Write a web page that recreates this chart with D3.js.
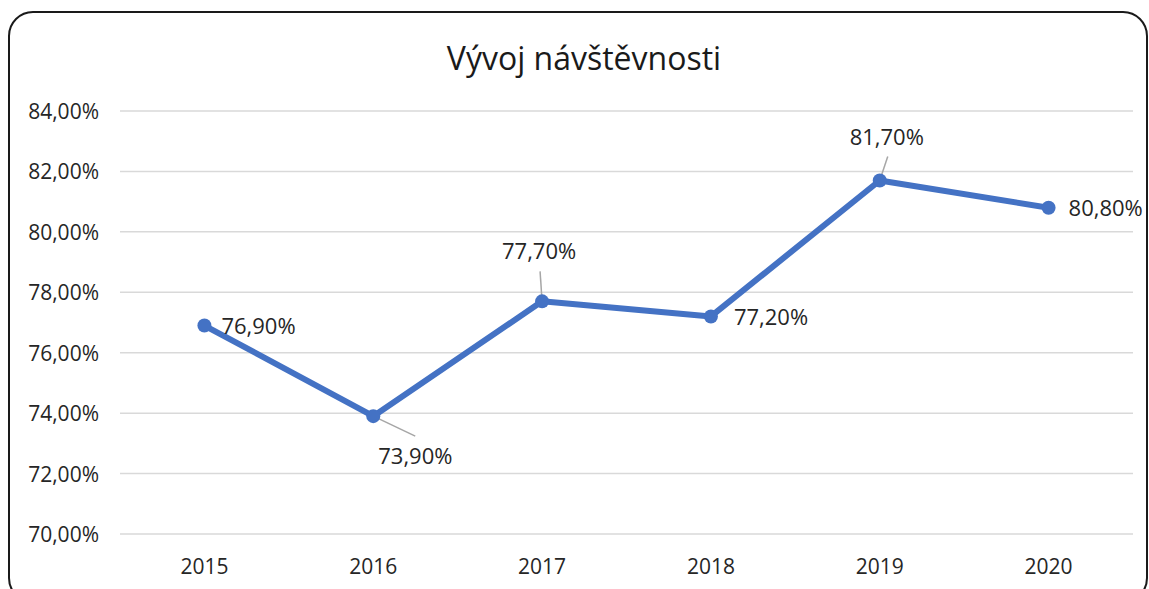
<!DOCTYPE html>
<html>
<head>
<meta charset="utf-8">
<script src="https://cdn.jsdelivr.net/npm/d3@7"></script>
<style>
  body { margin: 0; background: #fff; }
  text { font-family: "Open Sans", "Noto Sans", sans-serif; fill: #262626; }
</style>
</head>
<body>
<svg id="chart"></svg>
<script>
const years = ["2015", "2016", "2017", "2018", "2019", "2020"];
const visits = [76.9, 73.9, 77.7, 77.2, 81.7, 80.8];
const yTicks = [70, 72, 74, 76, 78, 80, 82, 84];
// label placement per point: dx, dy of text, and optional leader end
const labelPos = [
  { dx: 17, dy: 8, anchor: "start" },
  { dx: 5, dy: 48, anchor: "start", leader: [42, 20] },
  { dx: -3, dy: -42, anchor: "middle", leader: [-2, -30] },
  { dx: 23, dy: 9, anchor: "start" },
  { dx: 7, dy: -35, anchor: "middle", leader: [8, -24] },
  { dx: 20, dy: 8, anchor: "start" }
];

const w = 1149;
const h = 589;
const fmt = (v) => v.toFixed(2).replace(".", ",") + "%";

const svg = d3.select("#chart").attr("width", w).attr("height", h);

svg.append("rect")
  .attr("x", 9).attr("y", 12)
  .attr("width", 1138).attr("height", 590)
  .attr("rx", 24)
  .attr("fill", "#fff")
  .attr("stroke", "#1a1a1a")
  .attr("stroke-width", 2);

svg.append("text")
  .attr("x", 584).attr("y", 70)
  .attr("text-anchor", "middle")
  .attr("font-size", "32px")
  .style("fill", "#1a1a1a")
  .text("Vývoj návštěvnosti");

const x = d3.scaleBand().domain(years).range([120, 1133]);
const y = d3.scaleLinear().domain([70, 84]).range([534, 111]);

svg.append("g")
  .selectAll("line")
  .data(yTicks)
  .enter()
  .append("line")
  .attr("x1", 120).attr("x2", 1133)
  .attr("y1", (d) => y(d)).attr("y2", (d) => y(d))
  .attr("stroke", "#d9d9d9")
  .attr("stroke-width", 1.5);

svg.append("g")
  .selectAll("text")
  .data(yTicks)
  .enter()
  .append("text")
  .attr("x", 99)
  .attr("y", (d) => y(d) + 8)
  .attr("text-anchor", "end")
  .attr("font-size", "21px")
  .text((d) => fmt(d));

svg.append("g")
  .selectAll("text")
  .data(years)
  .enter()
  .append("text")
  .attr("x", (d) => x(d) + x.bandwidth() / 2)
  .attr("y", 574)
  .attr("text-anchor", "middle")
  .attr("font-size", "21px")
  .text((d) => d);

const cx = (i) => x(years[i]) + x.bandwidth() / 2;

const line = d3.line()
  .x((d, i) => cx(i))
  .y((d) => y(d));

svg.append("path")
  .datum(visits)
  .attr("d", line)
  .attr("fill", "none")
  .attr("stroke", "#4472C4")
  .attr("stroke-width", 6)
  .attr("stroke-linejoin", "round");

// leader lines
svg.append("g")
  .selectAll("line")
  .data(visits.map((v, i) => ({ v, i, p: labelPos[i] })).filter((d) => d.p.leader))
  .enter()
  .append("line")
  .attr("x1", (d) => cx(d.i)).attr("y1", (d) => y(d.v))
  .attr("x2", (d) => cx(d.i) + d.p.leader[0])
  .attr("y2", (d) => y(d.v) + d.p.leader[1])
  .attr("stroke", "#a6a6a6")
  .attr("stroke-width", 1.5);

svg.append("g")
  .selectAll("circle")
  .data(visits)
  .enter()
  .append("circle")
  .attr("cx", (d, i) => cx(i))
  .attr("cy", (d) => y(d))
  .attr("r", 7)
  .attr("fill", "#4472C4");

svg.append("g")
  .selectAll("text")
  .data(visits)
  .enter()
  .append("text")
  .attr("x", (d, i) => cx(i) + labelPos[i].dx)
  .attr("y", (d, i) => y(d) + labelPos[i].dy)
  .attr("text-anchor", (d, i) => labelPos[i].anchor)
  .attr("font-size", "22px")
  .text((d) => fmt(d));
</script>
</body>
</html>
